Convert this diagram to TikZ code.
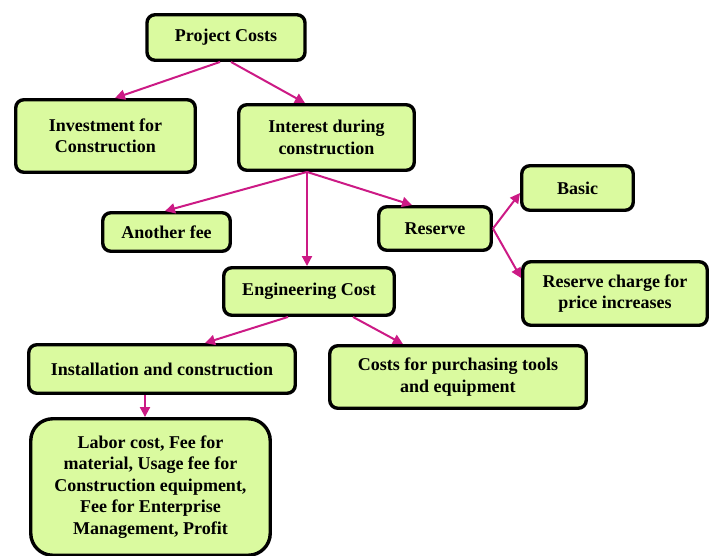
\documentclass[tikz,border=0pt]{standalone}
\usepackage{fontspec}
\setmainfont{Liberation Serif}
\usetikzlibrary{arrows.meta}
\definecolor{boxfill}{HTML}{DAFA9F}
\definecolor{arrowpink}{HTML}{CC1A85}
\tikzset{
  box/.style={draw=black, line width=3.4pt, fill=boxfill, rounded corners=8pt,
    align=center, inner sep=0pt, font=\bfseries\fontsize{18}{21.5}\selectfont},
  conn/.style={draw=arrowpink, line width=2pt, -{Triangle[length=10pt,width=10pt]}}
}
\begin{document}
\begin{tikzpicture}[x=1pt,y=-1pt]
\useasboundingbox (0,0) rectangle (710,555);
\clip (0,0) rectangle (710,555);
\node[box, minimum width=158pt, minimum height=45.5pt] (pc) at (226,37.5) {Project Costs};
\node[box, minimum width=179.5pt, minimum height=72.5pt] (inv) at (105.5,136) {Investment for\\Construction};
\node[box, minimum width=175.5pt, minimum height=65.5pt] (int) at (326.5,137.5) {Interest during\\construction};
\node[box, minimum width=127.5pt, minimum height=38.5pt] (oth) at (166.5,232) {Another fee};
\node[box, minimum width=112.5pt, minimum height=43.5pt] (res) at (435,228.5) {Reserve};
\node[box, minimum width=111.5pt, minimum height=44.5pt] (bas) at (577.5,188) {Basic};
\node[box, minimum width=184.5pt, minimum height=63.5pt] (rc) at (615,293.5) {Reserve charge for\\price increases};
\node[box, minimum width=170.5pt, minimum height=47.5pt] (eng) at (309,291.5) {Engineering Cost};
\node[box, minimum width=256.5pt, minimum height=62.5pt] (cst) at (458,377) {Costs for purchasing tools\\and equipment};
\node[box, minimum width=266.5pt, minimum height=48.5pt] (ins) at (162,369) {Installation and construction};
\node[box, rounded corners=22pt, minimum width=239.5pt, minimum height=136.5pt] (lab) at (150.5,487) {Labor cost, Fee for\\material, Usage fee for\\Construction equipment,\\Fee for Enterprise\\Management, Profit};
\draw[conn] ([xshift=-6pt]pc.south) -- ([xshift=9.5pt]inv.north);
\draw[conn] ([xshift=5pt]pc.south) -- ([xshift=-21.5pt]int.north);
\draw[conn] ([xshift=-19.5pt]int.south) -- ([xshift=-1.5pt]oth.north);
\draw[conn] ([xshift=-19.5pt]int.south) -- ([xshift=-2pt]eng.north);
\draw[conn] ([xshift=-19.5pt]int.south) -- ([xshift=-23pt]res.north);
\draw[conn] (res.east) -- ([yshift=-5pt]bas.west);
\draw[conn] (res.east) -- ([yshift=15.5pt]rc.west);
\draw[conn] ([xshift=-21pt]eng.south) -- ([xshift=43pt]ins.north);
\draw[conn] ([xshift=44pt]eng.south) -- ([xshift=-55pt]cst.north);
\draw[conn] ([xshift=-17pt]ins.south) -- ([xshift=-5.5pt]lab.north);
\end{tikzpicture}
\end{document}
